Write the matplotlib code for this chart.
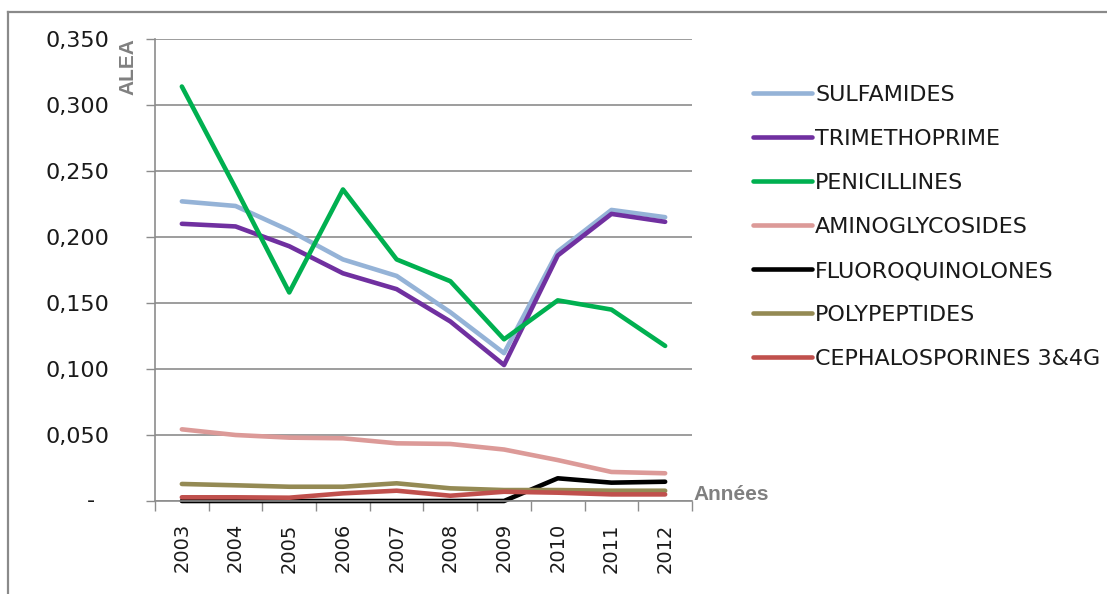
import numpy as np
import matplotlib.pyplot as plt
from matplotlib.lines import Line2D

# Data
years = ['2003', '2004', '2005', '2006', '2007', '2008', '2009', '2010', '2011', '2012']

sulfamides = [0.227, 0.2235, 0.205, 0.183, 0.1705, 0.143, 0.112, 0.189, 0.2205, 0.215]
trimethoprime = [0.210, 0.208, 0.193, 0.1725, 0.1605, 0.136, 0.103, 0.186, 0.2175, 0.2115]
penicillines = [0.314, 0.237, 0.158, 0.236, 0.183, 0.1665, 0.1225, 0.152, 0.145, 0.1175]
aminoglycosides = [0.0543, 0.050, 0.048, 0.0475, 0.0437, 0.0432, 0.039, 0.031, 0.022, 0.021]
fluoroquinolones = [0.0, 0.0, 0.0, 0.0, 0.0, 0.0, 0.0, 0.0172, 0.0139, 0.0146]
polypeptides = [0.0129, 0.0119, 0.0108, 0.0108, 0.0134, 0.0096, 0.0083, 0.0083, 0.0078, 0.0078]
cephalosporines = [0.0028, 0.0028, 0.0025, 0.0058, 0.0078, 0.0040, 0.0070, 0.0063, 0.0050, 0.0050]

series = [
    ('SULFAMIDES', sulfamides, '#95b3d7'),
    ('TRIMETHOPRIME', trimethoprime, '#7030a0'),
    ('PENICILLINES', penicillines, '#00b050'),
    ('AMINOGLYCOSIDES', aminoglycosides, '#dc9a98'),
    ('FLUOROQUINOLONES', fluoroquinolones, '#000000'),
    ('POLYPEPTIDES', polypeptides, '#948a54'),
    ('CEPHALOSPORINES 3&4G', cephalosporines, '#c0504d'),
]

y_ticks = [0.0, 0.05, 0.10, 0.15, 0.20, 0.25, 0.30, 0.35]

W, H = 1107, 594
grid_color = '#8c8c8c'
label_gray = '#808080'

fig = plt.figure(figsize=(W / 100, H / 100), dpi=100)
fig.patch.set_facecolor('white')

# plot area in pixels: x 155..692, y 39..501
ax = fig.add_axes([155 / W, (H - 501) / H, 537 / W, 462 / H])

x = np.arange(len(years))
for name, values, color in series:
    ax.plot(x, values, color=color, lw=3.3, label=name,
            solid_joinstyle='round', solid_capstyle='round', clip_on=False)

ax.set_xlim(-0.5, len(years) - 0.5)
ax.set_ylim(0, 0.35)

# y axis
ax.set_yticks(y_ticks)
ax.set_yticklabels([''] + ['{:.3f}'.format(v).replace('.', ',') for v in y_ticks[1:]])
ax.tick_params(axis='y', direction='out', length=6.5, width=1, color=grid_color,
               pad=26, labelsize=16, labelcolor='#1a1a1a')
ax.text((95 - 155) / 537, 0.0, '-', transform=ax.transAxes, ha='right', va='center',
        fontsize=16, color='#1a1a1a')

# x axis: labels at category centres, tick marks at boundaries
ax.set_xticks(x)
ax.set_xticklabels(years, rotation=90)
ax.set_xticks(np.arange(len(years) + 1) - 0.5, minor=True)
ax.tick_params(axis='x', which='major', length=0, pad=16, labelsize=14, labelcolor='#1a1a1a')
ax.tick_params(axis='x', which='minor', direction='out', length=7.2, width=1, color=grid_color)

ax.grid(axis='y', color=grid_color, lw=1.2)
ax.set_axisbelow(True)
for side in ['top', 'right']:
    ax.spines[side].set_visible(False)
for side in ['left', 'bottom']:
    ax.spines[side].set_color(grid_color)
    ax.spines[side].set_linewidth(1.2)

# axis titles
fig.text(128 / W, 1 - 67 / H, 'ALEA', rotation=90, ha='center', va='center',
         fontsize=15, fontweight='bold', color=label_gray, family='Liberation Sans')
fig.text(693 / W, 1 - 495 / H, 'Années', ha='left', va='center',
         fontsize=15, fontweight='bold', color=label_gray, family='Liberation Sans')

# legend
leg = ax.legend(loc='upper left', bbox_to_anchor=(753 / W, 1 - 85 / H),
                bbox_transform=fig.transFigure, frameon=False, fontsize=16,
                handlelength=2.65, handletextpad=0.15, labelspacing=1.08,
                borderpad=0, borderaxespad=0)
for t in leg.get_texts():
    t.set_color('#1a1a1a')

# chart border
fig.add_artist(Line2D([8 / W, 8 / W], [0, 1 - 12 / H], transform=fig.transFigure,
                      color='#8a8a8a', lw=1.6))
fig.add_artist(Line2D([8 / W, 1], [1 - 12 / H, 1 - 12 / H], transform=fig.transFigure,
                      color='#8a8a8a', lw=1.6))

fig.savefig('out.png', dpi=100, facecolor='white')
